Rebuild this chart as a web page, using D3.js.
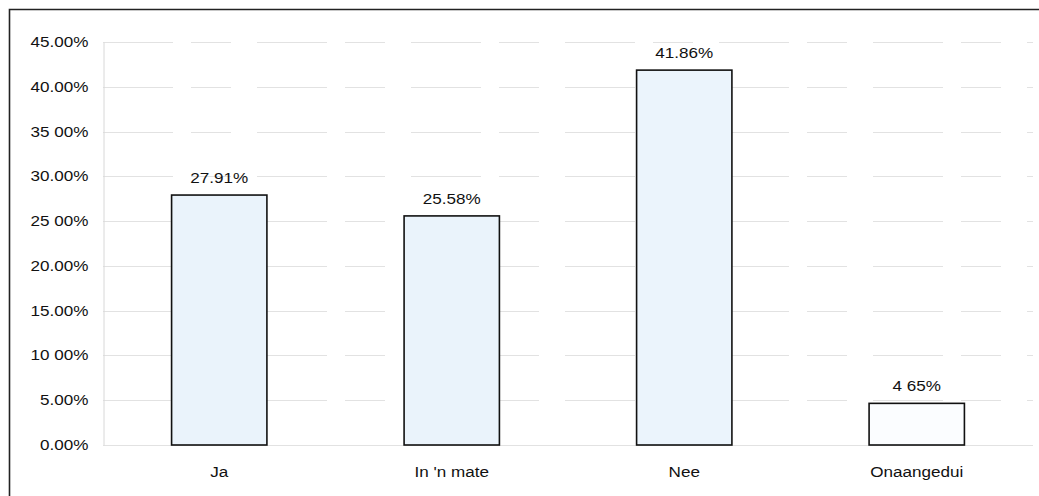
<!DOCTYPE html>
<html>
<head>
<meta charset="utf-8">
<script src="https://cdn.jsdelivr.net/npm/d3@7"></script>
<style>
  html, body { margin: 0; padding: 0; background: #fff; }
  svg { display: block; }
  text { font-family: "Liberation Sans", Arial, sans-serif; fill: #111; }
</style>
</head>
<body>
<svg id="chart" width="1039" height="496"></svg>
<script>
// Responses per answer option
const categories = ["Ja", "In 'n mate", "Nee", "Onaangedui"];
const values = [27.91, 25.58, 41.86, 4.65];
const valueLabels = ["27.91%", "25.58%", "41.86%", "4 65%"];
const tickValues = [0, 5, 10, 15, 20, 25, 30, 35, 40, 45];
const tickLabels = ["0.00%", "5.00%", "10 00%", "15.00%", "20.00%", "25 00%", "30.00%", "35 00%", "40.00%", "45.00%"];
const barFills = ["#eaf3fb", "#eaf3fb", "#ebf4fc", "#fbfdff"];

const svg = d3.select("#chart");
const margin = { left: 103, right: 6, top: 42, bottom: 51 };
const W = 1039, H = 496;
const fontSize = "14px";
const widen = 1.22; // horizontal stretch of the lettering

// Stretch glyphs horizontally while keeping their height
function stretchText(sel) {
  sel.each(function () {
    const len = this.getComputedTextLength();
    d3.select(this)
      .attr("textLength", len * widen)
      .attr("lengthAdjust", "spacingAndGlyphs");
  });
}

const x = d3.scaleBand()
  .domain(categories)
  .range([margin.left, W - margin.right])
  .paddingInner(0.59)
  .paddingOuter(0.295);

const y = d3.scaleLinear()
  .domain([0, 45])
  .range([H - margin.bottom, margin.top]);

// Outer frame (top and left edges)
svg.append("path")
  .attr("d", `M9.5,496 V9.5 H1039`)
  .attr("fill", "none")
  .attr("stroke", "#222")
  .attr("stroke-width", 1.6);

// Horizontal gridlines
svg.append("g")
  .selectAll("line")
  .data(tickValues)
  .join("line")
  .attr("x1", margin.left)
  .attr("x2", W - margin.right)
  .attr("y1", d => Math.round(y(d)) + 0.5)
  .attr("y2", d => Math.round(y(d)) + 0.5)
  .attr("stroke", "#e2e2e2")
  .attr("stroke-width", 1)
  .attr("stroke-dasharray", d => d === 0 ? null : "70,18,40,26");

// Y axis
const yAxis = d3.axisLeft(y)
  .tickValues(tickValues)
  .tickFormat((d, i) => tickLabels[i])
  .tickSize(0)
  .tickPadding(15);

const gy = svg.append("g")
  .attr("transform", `translate(${margin.left + 0.5},0)`)
  .call(yAxis);
gy.select(".domain").attr("stroke", "#d8d8d8");
gy.selectAll("text")
  .style("font-size", fontSize)
  .style("font-family", "'Liberation Sans', Arial, sans-serif")
  .attr("fill", "#111")
  .call(stretchText);

// X axis labels
const xAxis = d3.axisBottom(x).tickSize(0).tickPadding(22);
const gx = svg.append("g")
  .attr("transform", `translate(0,${y(0)})`)
  .call(xAxis);
gx.select(".domain").remove();
gx.selectAll("text")
  .style("font-size", fontSize)
  .style("font-family", "'Liberation Sans', Arial, sans-serif")
  .attr("fill", "#111")
  .call(stretchText);

// Bars
svg.append("g")
  .selectAll("rect")
  .data(values)
  .join("rect")
  .attr("x", (d, i) => x(categories[i]))
  .attr("y", d => y(d))
  .attr("width", x.bandwidth())
  .attr("height", d => y(0) - y(d))
  .attr("fill", (d, i) => barFills[i])
  .attr("stroke", "#111")
  .attr("stroke-width", 1.6);

// Value labels above bars
svg.append("g")
  .selectAll("text")
  .data(values)
  .join("text")
  .attr("x", (d, i) => x(categories[i]) + x.bandwidth() / 2)
  .attr("y", d => y(d) - 12)
  .attr("text-anchor", "middle")
  .style("font-size", fontSize)
  .text((d, i) => valueLabels[i])
  .call(stretchText);
</script>
</body>
</html>
